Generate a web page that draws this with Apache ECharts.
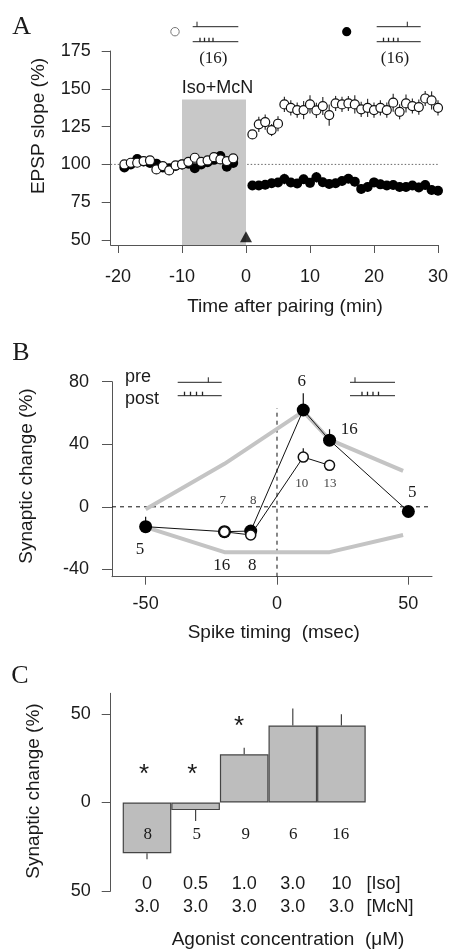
<!DOCTYPE html>
<html><head><meta charset="utf-8">
<script src="https://cdn.jsdelivr.net/npm/echarts@6/dist/echarts.min.js"></script>
<style>html,body{margin:0;padding:0;background:#fff}#c{width:454px;height:949px}</style>
</head><body><div id="c"></div>
<script>
// ---------- Panel A data ----------
const baseTimes = [-19,-18,-17,-16,-15,-14,-13,-12,-11,-10,-9,-8,-7,-6,-5,-4,-3,-2];
const openBase   = [100,101.1,101.1,102.2,102.6,96.7,98.9,96,99.3,100,101.7,104.4,101.7,102.6,104.8,103.3,102.2,104];
const filledBase = [98,100,103.5,102,101,100.5,98,97.5,99,100,100.5,97.5,100,101.5,103,105.5,98.5,101];
const postTimes = [1,2,3,4,5,6,7,8,9,10,11,12,13,14,15,16,17,18,19,20,21,22,23,24,25,26,27,28,29,30];
const openPost = [119.8,126.5,128,122.7,126.9,139.7,137.4,135.9,135.9,139.7,135.7,138.6,132.6,140.3,139.7,140.3,139.7,136.4,137.4,135.9,137.4,135.9,140.8,134.8,140.3,138.6,137.9,143.6,142.3,137.4];
const openPostSem = [3,5,5,4,5,5,5,5,6,6,5,6,7,5,5,5,6,5,6,5,5,5,6,5,6,5,5,5,6,5];
const filledPost = [86,86,86.5,87.5,88,90.4,88,87.4,90.2,87.8,91.5,88.2,87,87.5,89,90.5,88.6,83.8,85,88.1,86.8,86,86.4,85.1,85.1,86,84.8,86.4,83.1,82.6];
const filledPostSem = [2.5,3,3,3,3,3.5,3,3,3,3,3.5,3,3,3,3,3,3,3,3,3,3,3,3,3,3,3,3,3,3,3];
const drugStart = -10, drugEnd = 0, drugTop = 143;
const pairingTime = 0;

// ---------- Panel B data ----------
const timingFilled = [-50,-20,-10,10,20,50];
const changeFilled = [-12.7,-15.9,-15.5,61.9,42.6,-3];
const semFilled    = [6.4,2,2,10.7,7,2];
const timingOpen = [-20,-10,10,20];
const changeOpen = [-16,-18,31.8,26.5];
const semOpen    = [2,1.5,5.6,2];
const upperEnvT = [-50,-20,10,20,48];
const upperEnvV = [-1.5,27.5,61,43,23];
const lowerEnvT = [-50,-20,20,48];
const lowerEnvV = [-13,-29,-29,-18];

// ---------- Panel C data ----------
const isoConc = ['0','0.5','1.0','3.0','10'];
const mcnConc = ['3.0','3.0','3.0','3.0','3.0'];
const changeC = [-28.7,-4.3,27.2,43.5,43.5];
const semC    = [3.3,6.1,3.7,9.6,6.3];
const nC      = ['8','5','9','6','16'];

// ---------- styling ----------
const SANS = "'Liberation Sans', Arial, Helvetica, sans-serif";
const SERIF = "'Liberation Serif', 'Times New Roman', serif";
const AX = '#555';
const TXT = '#1a1a1a';

const A_XMIN = -21.14, A_XMAX = 30, A_YMIN = 46.7, A_YMAX = 175;
const B_XMIN = -62.8, B_XMAX = 59, B_YMIN = -44.7, B_YMAX = 80;
const C_YMIN = -50, C_YMAX = 61.7;

function zip(a, b) { return a.map((v, i) => [v, b[i]]); }
function errData(t, v, s, upOnly) { return t.map((x, i) => [x, upOnly ? v[i] : v[i] - s[i], v[i] + s[i]]); }
function errRender(color, width) {
  return function (params, api) {
    const a = api.coord([api.value(0), api.value(1)]);
    const b = api.coord([api.value(0), api.value(2)]);
    return { type: 'line', shape: { x1: a[0], y1: a[1], x2: b[0], y2: b[1] }, style: { stroke: color, lineWidth: width } };
  };
}
function valAxis(grid, min, max, ticks, tickLen, margin, extra, fmt) {
  const lab = { customValues: ticks, margin: margin, fontSize: 18, fontFamily: SANS, color: TXT };
  if (fmt) lab.formatter = fmt;
  return Object.assign({
    gridIndex: grid, type: 'value', min: min, max: max,
    axisLine: { show: true, onZero: false, lineStyle: { color: AX, width: 1 } },
    axisTick: { show: true, length: tickLen, customValues: ticks, lineStyle: { color: AX, width: 1 } },
    axisLabel: lab,
    splitLine: { show: false }
  }, extra || {});
}
function txt(x, y, s, size, family, extra) {
  return Object.assign({ type: 'text', x: x, y: y, z: 100, silent: true,
    style: Object.assign({ text: s, fontSize: size, fontFamily: family, fill: TXT,
      align: 'center', verticalAlign: 'middle', textAlign: 'center', textVerticalAlign: 'middle' }, (extra && extra.style) || {}) },
    extra && extra.rotation ? { rotation: extra.rotation } : {});
}
function ln(x1, y1, x2, y2, w) {
  return { type: 'line', z: 100, silent: true, shape: { x1: x1, y1: y1, x2: x2, y2: y2 }, style: { stroke: '#222', lineWidth: w || 1 } };
}
function stimIcon(x0, x1, yTop, gap, preTick, postTicks) {
  const els = [ln(x0, yTop, x1, yTop), ln(preTick, yTop, preTick, yTop - 5),
               ln(x0, yTop + gap, x1, yTop + gap)];
  postTicks.forEach(p => els.push(ln(p, yTop + gap, p, yTop + gap - 4, 1.3)));
  return els;
}

const chart = echarts.init(document.getElementById('c'), null, { renderer: 'canvas' });

const graphics = [
  txt(21.7, 26.7, 'A', 26, SERIF),
  txt(21, 353, 'B', 26, SERIF),
  txt(20, 676, 'C', 26, SERIF),
  // legend panel A
  { type: 'circle', z: 100, silent: true, shape: { cx: 175, cy: 31.7, r: 4.2 }, style: { fill: '#fff', stroke: '#777', lineWidth: 1 } },
  { type: 'circle', z: 100, silent: true, shape: { cx: 346.7, cy: 31.7, r: 4.6 }, style: { fill: '#000' } },
  ...stimIcon(192.7, 238.3, 26.7, 15, 197, [200, 204.5, 209, 213]),
  ...stimIcon(376.7, 420.7, 26.7, 15, 407.3, [383.5, 388.5, 393.5, 398]),
  txt(213.3, 59, '(16)', 17, SERIF),
  txt(395, 59, '(16)', 17, SERIF),
  txt(217.5, 88.3, 'Iso+McN', 18, SANS),
  txt(39, 126, 'EPSP slope (%)', 19, SANS, { rotation: Math.PI / 2 }),
  txt(285, 306.7, 'Time after pairing (min)', 19, SANS),
  // panel B
  txt(125, 376.7, 'pre', 18, SANS, { style: { align: 'left', textAlign: 'left' } }),
  txt(125, 399.3, 'post', 18, SANS, { style: { align: 'left', textAlign: 'left' } }),
  ...stimIcon(177.7, 221.7, 382.3, 13.4, 208.3, [184.5, 190.5, 196.5, 202.5]),
  ...stimIcon(350, 395, 382.3, 13.4, 355, [362, 367.5, 373, 378.5]),
  txt(301.7, 381.7, '6', 17, SERIF),
  txt(349.3, 429.3, '16', 17, SERIF),
  txt(412.3, 492.3, '5', 17, SERIF),
  txt(140, 549.3, '5', 17, SERIF),
  txt(221.7, 566, '16', 17, SERIF),
  txt(252.3, 566, '8', 17, SERIF),
  txt(222.7, 500.7, '7', 13, SERIF, { style: { fill: '#444' } }),
  txt(253.3, 500.7, '8', 13, SERIF, { style: { fill: '#444' } }),
  txt(301.7, 484, '10', 13, SERIF, { style: { fill: '#444' } }),
  txt(330, 483.3, '13', 13, SERIF, { style: { fill: '#444' } }),
  txt(26.7, 476, 'Synaptic change (%)', 19, SANS, { rotation: Math.PI / 2 }),
  txt(273.7, 632.7, 'Spike timing  (msec)', 19, SANS),
  // panel C
  txt(33.3, 791, 'Synaptic change (%)', 19, SANS, { rotation: Math.PI / 2 }),
  txt(288, 940, 'Agonist concentration  (\u03bcM)', 19, SANS),
  txt(144, 775, '*', 26, SANS),
  txt(192.3, 775, '*', 26, SANS),
  txt(239, 726.7, '*', 26, SANS),
  txt(147.7, 835, nC[0], 17, SERIF),
  txt(196.7, 835, nC[1], 17, SERIF),
  txt(245.7, 835, nC[2], 17, SERIF),
  txt(293.3, 835, nC[3], 17, SERIF),
  txt(340.7, 835, nC[4], 17, SERIF)
];

const option = {
  animation: false,
  backgroundColor: '#fff',
  grid: [
    { left: 110.7, top: 51, width: 327.3, height: 194, outerBoundsMode: 'none' },
    { left: 112, top: 381.7, width: 320, height: 195, outerBoundsMode: 'none' },
    { left: 122.7, top: 693.3, width: 291.6, height: 197.7, outerBoundsMode: 'none' }
  ],
  xAxis: [
    valAxis(0, A_XMIN, A_XMAX, [-20, -10, 0, 10, 20, 30], 8, 23),
    valAxis(1, B_XMIN, B_XMAX, [-50, 0, 50], 8, 18),
    { gridIndex: 2, type: 'category', data: ['c0', 'c1', 'c2', 'c3', 'c4', 'c5'],
      axisLine: { show: false }, axisTick: { show: false }, splitLine: { show: false },
      axisLabel: { margin: -18, interval: 0,
        formatter: function (v, i) {
          if (i < isoConc.length) return '{r|' + isoConc[i] + '}\n{r|' + mcnConc[i] + '}';
          return '{u|[Iso]}\n{u|[McN]}';
        },
        rich: {
          r: { fontSize: 18, fontFamily: SANS, color: TXT, lineHeight: 22.7, align: 'center' },
          u: { fontSize: 18, fontFamily: SANS, color: TXT, lineHeight: 22.7, align: 'left' }
        } } }
  ],
  yAxis: [
    valAxis(0, A_YMIN, A_YMAX, [50, 75, 100, 125, 150, 175], 9, 20),
    valAxis(1, B_YMIN, B_YMAX, [-40, 0, 40, 80], 10, 23),
    valAxis(2, C_YMIN, C_YMAX, [-50, 0, 50], 9, 20, { offset: 12 }, function (v) { return String(Math.abs(v)); })
  ],
  series: [
    // ----- Panel A -----
    { type: 'line', xAxisIndex: 0, yAxisIndex: 0, z: 1, symbol: 'none', silent: true,
      data: [[A_XMIN, 100], [A_XMAX, 100]], lineStyle: { color: '#666', width: 1, type: [1.5, 2] } },
    { type: 'custom', xAxisIndex: 0, yAxisIndex: 0, z: 2, silent: true,
      data: [[drugStart, drugEnd, drugTop]],
      renderItem: function (p, api) {
        const a = api.coord([api.value(0), api.value(2)]);
        const b = api.coord([api.value(1), A_YMIN]);
        return { type: 'rect', shape: { x: a[0], y: a[1], width: b[0] - a[0], height: b[1] - a[1] }, style: { fill: '#c8c8c8' } };
      } },
    { type: 'custom', xAxisIndex: 0, yAxisIndex: 0, z: 3, silent: true,
      data: errData(postTimes, filledPost, filledPostSem, false), renderItem: errRender('#000', 1.2) },
    { type: 'scatter', xAxisIndex: 0, yAxisIndex: 0, z: 4, symbol: 'circle', symbolSize: 10, silent: true,
      data: zip(baseTimes, filledBase).concat(zip(postTimes, filledPost)), itemStyle: { color: '#000', opacity: 1 } },
    { type: 'custom', xAxisIndex: 0, yAxisIndex: 0, z: 5, silent: true,
      data: errData(postTimes, openPost, openPostSem, false), renderItem: errRender('#333', 1.2) },
    { type: 'scatter', xAxisIndex: 0, yAxisIndex: 0, z: 6, symbol: 'circle', symbolSize: 9, silent: true,
      data: zip(baseTimes, openBase).concat(zip(postTimes, openPost)),
      itemStyle: { color: '#fff', borderColor: '#111', borderWidth: 1.2, opacity: 1 } },
    { type: 'scatter', xAxisIndex: 0, yAxisIndex: 0, z: 7, symbol: 'triangle', symbolSize: [12, 11], silent: true,
      data: [[pairingTime, 52.2]], itemStyle: { color: '#000' } },
    // ----- Panel B -----
    { type: 'line', xAxisIndex: 1, yAxisIndex: 1, z: 1, symbol: 'none', silent: true,
      data: [[B_XMIN, 0], [B_XMAX, 0]], lineStyle: { color: '#111', width: 1, type: [4, 4] } },
    { type: 'line', xAxisIndex: 1, yAxisIndex: 1, z: 1, symbol: 'none', silent: true,
      data: [[0, B_YMIN], [0, 63]], lineStyle: { color: '#111', width: 1, type: [4, 4] } },
    { type: 'line', xAxisIndex: 1, yAxisIndex: 1, z: 2, symbol: 'none', silent: true,
      data: zip(upperEnvT, upperEnvV), lineStyle: { color: '#c4c4c4', width: 4 } },
    { type: 'line', xAxisIndex: 1, yAxisIndex: 1, z: 2, symbol: 'none', silent: true,
      data: zip(lowerEnvT, lowerEnvV), lineStyle: { color: '#c4c4c4', width: 4 } },
    { type: 'custom', xAxisIndex: 1, yAxisIndex: 1, z: 3, silent: true,
      data: errData(timingFilled, changeFilled, semFilled, true), renderItem: errRender('#111', 1.2) },
    { type: 'custom', xAxisIndex: 1, yAxisIndex: 1, z: 3, silent: true,
      data: errData(timingOpen, changeOpen, semOpen, true), renderItem: errRender('#111', 1.2) },
    { type: 'line', xAxisIndex: 1, yAxisIndex: 1, z: 4, symbol: 'circle', symbolSize: 13, silent: true,
      data: zip(timingFilled, changeFilled), lineStyle: { color: '#111', width: 1 }, itemStyle: { color: '#000' } },
    { type: 'line', xAxisIndex: 1, yAxisIndex: 1, z: 5, symbol: 'circle', symbolSize: 10, silent: true,
      data: zip(timingOpen, changeOpen), lineStyle: { color: '#111', width: 1 },
      itemStyle: { color: '#fff', borderColor: '#111', borderWidth: 1.5 } },
    // ----- Panel C -----
    { type: 'bar', xAxisIndex: 2, yAxisIndex: 2, z: 2, silent: true, barCategoryGap: '0%',
      data: changeC, itemStyle: { color: '#bdbdbd', borderColor: '#444', borderWidth: 1.2 } },
    { type: 'custom', xAxisIndex: 2, yAxisIndex: 2, z: 3, silent: true,
      data: changeC.map((v, i) => [i, v, v + (v < 0 ? -semC[i] : semC[i])]), renderItem: errRender('#444', 1.2) }
  ],
  graphic: graphics
};
chart.setOption(option);
</script></body></html>
